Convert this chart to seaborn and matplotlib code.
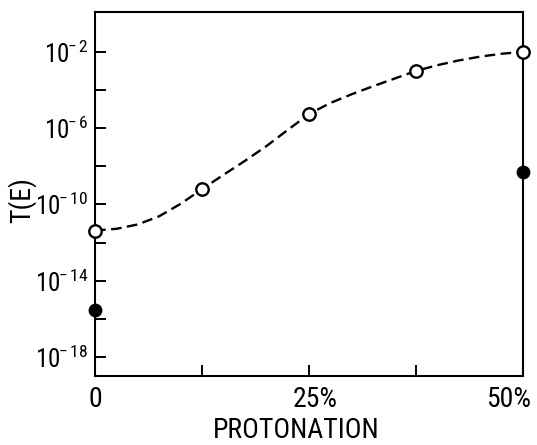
import matplotlib
matplotlib.use("Agg")
import numpy as np
import pandas as pd
import seaborn as sns
import matplotlib.pyplot as plt
from matplotlib.transforms import ScaledTranslation

# ---- data ----
protonation_open = [0, 12.5, 25, 37.5, 50]
logT_open = [-11.37, -9.2, -5.26, -3.0, -2.0]
protonation_filled = [0, 50]
logT_filled = [-15.54, -8.29]
curve_x = [0, 2.5, 5, 7.5, 10, 12.5, 15, 17.5, 20, 22.5, 25, 27.5, 30,
           32.5, 35, 37.5, 40, 42.5, 45, 47.5, 50]
curve_logT = [-11.37, -11.28, -11.05, -10.62, -9.97, -9.2, -8.45, -7.72,
              -6.95, -6.1, -5.26, -4.68, -4.22, -3.8, -3.4, -3.0, -2.7,
              -2.45, -2.25, -2.1, -2.0]
y_tick_exps = [-18, -16, -14, -12, -10, -8, -6, -4, -2]
y_labeled_exps = [-18, -14, -10, -6, -2]
x_ticks = [0, 12.5, 25, 37.5, 50]
x_tick_labels = ["0", "", "25%", "", "50%"]

FONT = "Roboto Condensed"
sns.set_style("ticks")
plt.rcParams['font.family'] = [FONT, 'DejaVu Sans']
plt.rcParams['mathtext.fontset'] = 'custom'
plt.rcParams['mathtext.rm'] = FONT
plt.rcParams['mathtext.it'] = FONT
plt.rcParams['mathtext.bf'] = FONT
plt.rcParams['text.color'] = 'black'
plt.rcParams['xtick.color'] = 'black'
plt.rcParams['ytick.color'] = 'black'
plt.rcParams['axes.labelcolor'] = 'black'

df_curve = pd.DataFrame({"x": curve_x, "T": 10.0 ** np.array(curve_logT)})
df_open = pd.DataFrame({"x": protonation_open, "T": 10.0 ** np.array(logT_open)})
df_filled = pd.DataFrame({"x": protonation_filled, "T": 10.0 ** np.array(logT_filled)})

fig = plt.figure(figsize=(5.37, 4.45), dpi=100)
ax = fig.add_axes([0.177, 0.155, 0.797, 0.817])

sns.lineplot(data=df_curve, x="x", y="T", ax=ax, color="black", lw=1.7,
             linestyle=(0, (4.5, 2.3)), zorder=2)
sns.scatterplot(data=df_open, x="x", y="T", ax=ax, s=80, facecolor="white",
                edgecolor="black", linewidth=1.7, zorder=4, clip_on=False)
sns.scatterplot(data=df_filled, x="x", y="T", ax=ax, s=80, color="black",
                edgecolor="black", linewidth=1.0, zorder=4, clip_on=False)

ax.set_yscale("log")
ax.set_xlim(0, 50)
ax.set_ylim(1e-19, 10 ** 0.065)

ax.set_yticks([10.0 ** e for e in y_tick_exps])
ax.set_yticklabels([(r"$10^{\!\!-%d}$" % -e) if e in y_labeled_exps else "" for e in y_tick_exps])
ax.yaxis.set_minor_locator(matplotlib.ticker.NullLocator())
ax.set_xticks(x_ticks)
ax.set_xticklabels(x_tick_labels)

ax.tick_params(axis="both", direction="in", length=8, width=1.4, color="black")
ax.tick_params(axis="y", labelsize=18, pad=5)
ax.tick_params(axis="x", labelsize=20, pad=7)
for s in ["top", "right", "left", "bottom"]:
    ax.spines[s].set_linewidth(1.5)
    ax.spines[s].set_color("black")

# shift some x tick labels as in the reference
xl = ax.get_xticklabels()
xl[-1].set_transform(xl[-1].get_transform() + ScaledTranslation(-14 / 100, 0, fig.dpi_scale_trans))
xl[2].set_transform(xl[2].get_transform() + ScaledTranslation(6 / 100, 0, fig.dpi_scale_trans))

ax.set_xlabel("PROTONATION", fontsize=20)
ax.set_ylabel("T(E)", fontsize=20)
ax.xaxis.set_label_coords(0.47, -0.151)
ax.yaxis.set_label_coords(-0.171, 0.484)
ax.xaxis.label.set_va("center")
ax.yaxis.label.set_va("center")

fig.savefig("out.png", dpi=100)
